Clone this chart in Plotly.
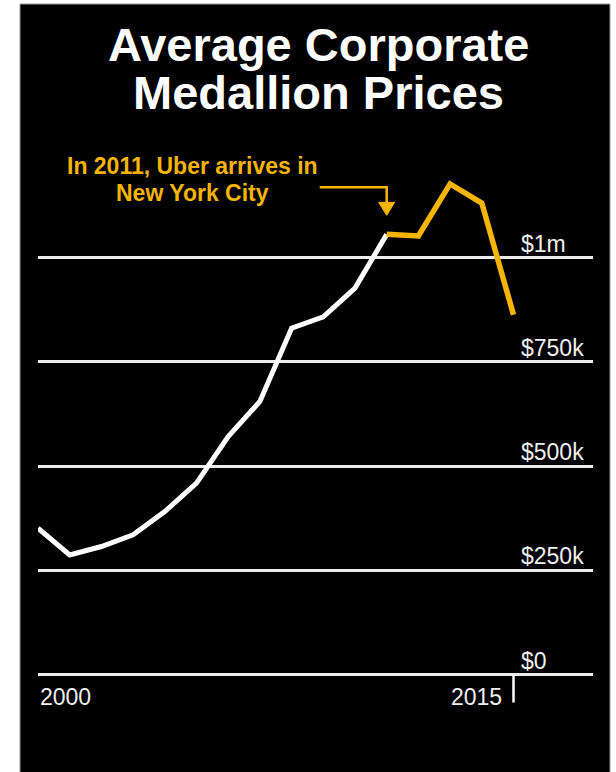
import plotly.graph_objects as go

# Average corporate taxi medallion prices, New York City (USD)
years = list(range(2000, 2016))
prices = [351000, 287000, 307000, 335000, 391000, 459000, 571000, 655000,
          831000, 858000, 927000, 1056000, 1052000, 1177000, 1131000, 863000]
uber_year = 2011

y_ticks = [0, 250000, 500000, 750000, 1000000]
y_tick_labels = ["$0", "$250k", "$500k", "$750k", "$1m"]
x_label_years = [2000, 2015]

WHITE = "#ffffff"
YELLOW = "#F7B500"
FONT = "Liberation Sans, Arial, Helvetica, sans-serif"

split = years.index(uber_year)
before_x, before_y = years[:split + 1], prices[:split + 1]
after_x, after_y = years[split:], prices[split:]

fig = go.Figure()
fig.add_trace(go.Scatter(x=before_x, y=before_y, mode="lines",
                         line=dict(color=WHITE, width=5), hoverinfo="skip"))
fig.add_trace(go.Scatter(x=after_x, y=after_y, mode="lines",
                         line=dict(color=YELLOW, width=5.5), hoverinfo="skip"))

# layout geometry (pixels)
W, H = 616, 772
L, R, T, B = 38, 23, 140, 32
plot_w, plot_h = W - L - R, H - T - B
px_per_year = 31.7
px_per_dollar = 104.2 / 250000
zero_px = 674.5  # pixel row of $0
y_min = -(H - B - zero_px) / px_per_dollar
y_max = y_min + plot_h / px_per_dollar
x_min = 2000
x_max = x_min + plot_w / px_per_year


def px_x(px):
    return (px - L) / plot_w


def px_y(py):
    return (H - B - py) / plot_h


shapes = [
    # black panel behind everything
    dict(type="rect", xref="paper", yref="paper",
         x0=px_x(20), x1=px_x(610), y0=px_y(H + 2), y1=px_y(4),
         fillcolor="#000000", line=dict(color="#9a9a9a", width=1), layer="below"),
    # tick mark under the final year
    dict(type="line", xref="x", yref="y", x0=2015, x1=2015,
         y0=0, y1=-28 / px_per_dollar, line=dict(color=WHITE, width=2.5)),
]

# elbow arrow pointing at the 2011 value
tip_y = prices[split] + 19 / px_per_dollar
elbow_y = tip_y + 28 / px_per_dollar
head_top = tip_y + 13 / px_per_dollar
start_x = uber_year - 67 / px_per_year
half_w = 8 / px_per_year
shapes.append(dict(type="path", xref="x", yref="y",
                   path=f"M {start_x},{elbow_y} L {uber_year},{elbow_y} L {uber_year},{head_top}",
                   line=dict(color=YELLOW, width=2.5)))
shapes.append(dict(type="path", xref="x", yref="y",
                   path=f"M {uber_year - half_w},{head_top} L {uber_year + half_w},{head_top} L {uber_year},{tip_y} Z",
                   fillcolor=YELLOW, line=dict(color=YELLOW, width=1)))

annotations = []
for v, lab in zip(y_ticks, y_tick_labels):
    annotations.append(dict(x=2015, y=v, xref="x", yref="y", text=lab,
                            showarrow=False, xanchor="left", yanchor="bottom",
                            xshift=5, yshift=-1,
                            font=dict(family=FONT, size=23, color="#f0f0f0")))
for yr, anchor, shift in zip(x_label_years, ["left", "right"], [0, -10]):
    annotations.append(dict(x=yr, y=0, xref="x", yref="y", text=str(yr),
                            showarrow=False, xanchor=anchor, yanchor="top",
                            xshift=shift, yshift=-7,
                            font=dict(family=FONT, size=23, color="#f0f0f0")))

title_lines = ["Average Corporate", "Medallion Prices"]
for i, line in enumerate(title_lines):
    annotations.append(dict(x=px_x(318), y=px_y(45 + 48 * i), xref="paper", yref="paper",
                            text=line, showarrow=False, xanchor="center", yanchor="middle",
                            font=dict(family=FONT, size=47, color=WHITE, weight="bold")))

note_lines = ["In 2011, Uber arrives in", "New York City"]
for i, line in enumerate(note_lines):
    annotations.append(dict(x=px_x(192), y=px_y(166 + 27 * i), xref="paper", yref="paper",
                            text=line, showarrow=False, xanchor="center", yanchor="middle",
                            font=dict(family=FONT, size=23, color=YELLOW, weight="bold")))

fig.update_layout(
    width=W, height=H,
    margin=dict(l=L, r=R, t=T, b=B, pad=0),
    paper_bgcolor="#ffffff",
    plot_bgcolor="rgba(0,0,0,0)",
    showlegend=False,
    xaxis=dict(range=[x_min, x_max], showgrid=False, zeroline=False,
               showticklabels=False, ticks="", showline=False, fixedrange=True),
    yaxis=dict(range=[y_min, y_max], tickvals=y_ticks, showticklabels=False,
               showgrid=True, gridcolor="#ececec", gridwidth=2.5,
               zeroline=False, showline=False, ticks="", fixedrange=True),
    shapes=shapes,
    annotations=annotations,
)

fig.write_html("out.html")
